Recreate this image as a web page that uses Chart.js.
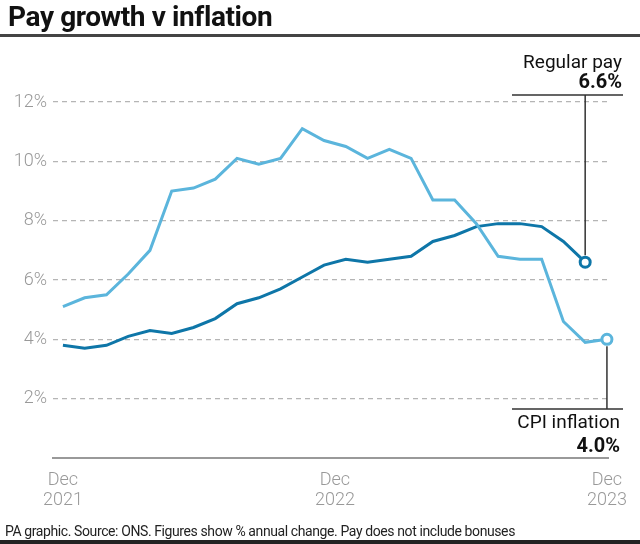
<!DOCTYPE html>
<html>
<head>
<meta charset="utf-8">
<script src="https://cdn.jsdelivr.net/npm/chart.js@4.4.1/dist/chart.umd.min.js"></script>
<style>
  body { margin: 0; background: #fff; }
  #wrap { position: relative; width: 640px; height: 544px; overflow: hidden; }
  #title { position: absolute; left: 8px; top: 0px; font: bold 28px Roboto, sans-serif; color: #111; letter-spacing: -0.4px; }
  #rule { position: absolute; left: 0; top: 34px; width: 640px; height: 3px; background: #444; }
  #foot { position: absolute; left: 5px; top: 523px; font: 14px Roboto, sans-serif; color: #222; letter-spacing: -0.4px; }
  #bar { position: absolute; left: 0; top: 540px; width: 640px; height: 4px; background: #222; }
  canvas { position: absolute; left: 0; top: 0; }
</style>
</head>
<body>
<div id="wrap">
  <canvas id="mainChart" width="640" height="544"></canvas>
  <div id="title">Pay growth v inflation</div>
  <div id="rule"></div>
  <div id="foot">PA graphic. Source: ONS. Figures show % annual change. Pay does not include bonuses</div>
  <div id="bar"></div>
</div>
<script>
// monthly, Nov 2021 .. Dec 2023
const cpiInflation = [5.1, 5.4, 5.5, 6.2, 7.0, 9.0, 9.1, 9.4, 10.1, 9.9, 10.1, 11.1, 10.7,
  10.5, 10.1, 10.4, 10.1, 8.7, 8.7, 7.9, 6.8, 6.7, 6.7, 4.6, 3.9, 4.0];
const regularPay = [3.8, 3.7, 3.8, 4.1, 4.3, 4.2, 4.4, 4.7, 5.2, 5.4, 5.7, 6.1, 6.5,
  6.7, 6.6, 6.7, 6.8, 7.3, 7.5, 7.8, 7.9, 7.9, 7.8, 7.3, 6.6];

const xTickPos = [0, 12.5, 25];
const xTickLabels = [['Dec', '2021'], ['Dec', '2022'], ['Dec', '2023']];
const yTicks = [0, 2, 4, 6, 8, 10, 12];

const payColor = '#0e76a8';
const cpiColor = '#5bb5dc';

const toPoints = arr => arr.map((v, i) => ({ x: i, y: v }));
const lastOnly = arr => ctx => ctx.dataIndex === arr.length - 1 ? 5 : 0;

const calloutPlugin = {
  id: 'callouts',
  afterDatasetsDraw(chart) {
    const c = chart.ctx;
    const xs = chart.scales.x, ys = chart.scales.y;
    const payX = xs.getPixelForValue(regularPay.length - 1);
    const payY = ys.getPixelForValue(regularPay[regularPay.length - 1]);
    const cpiX = xs.getPixelForValue(cpiInflation.length - 1);
    const cpiY = ys.getPixelForValue(cpiInflation[cpiInflation.length - 1]);
    c.save();
    c.strokeStyle = '#333';
    c.lineWidth = 1.5;
    c.beginPath();
    c.moveTo(payX, payY - 7); c.lineTo(payX, 95);
    c.moveTo(512, 95); c.lineTo(623, 95);
    c.moveTo(cpiX, cpiY + 7); c.lineTo(cpiX, 409);
    c.moveTo(512, 409); c.lineTo(623, 409);
    c.stroke();
    c.fillStyle = '#111';
    c.textAlign = 'right';
    c.textBaseline = 'alphabetic';
    c.font = '19px Roboto, sans-serif';
    c.fillText('Regular pay', 622, 68);
    c.fillText('CPI inflation', 620, 428);
    c.font = 'bold 20px Roboto, sans-serif';
    c.fillText(regularPay[regularPay.length - 1].toFixed(1) + '%', 622, 88);
    c.fillText(cpiInflation[cpiInflation.length - 1].toFixed(1) + '%', 620, 452);
    c.restore();
  }
};

const ctx = document.getElementById('mainChart').getContext('2d');
new Chart(ctx, {
  type: 'line',
  data: {
    datasets: [{
      label: 'CPI inflation',
      data: toPoints(cpiInflation),
      borderColor: cpiColor,
      borderWidth: 3,
      pointRadius: lastOnly(cpiInflation),
      pointBackgroundColor: '#fff',
      pointBorderColor: cpiColor,
      pointBorderWidth: 3,
      tension: 0,
      clip: false
    }, {
      label: 'Regular pay',
      data: toPoints(regularPay),
      borderColor: payColor,
      borderWidth: 3,
      pointRadius: lastOnly(regularPay),
      pointBackgroundColor: '#fff',
      pointBorderColor: payColor,
      pointBorderWidth: 3,
      tension: 0,
      clip: false
    }]
  },
  options: {
    responsive: false,
    animation: false,
    layout: { padding: { top: 102, right: 27, bottom: 26, left: 0 } },
    plugins: { legend: { display: false }, tooltip: { enabled: false } },
    scales: {
      x: {
        type: 'linear',
        min: -0.456,
        max: 25.09,
        afterBuildTicks: scale => { scale.ticks = xTickPos.map(v => ({ value: v })); },
        afterFit: scale => { scale.height = 60; },
        ticks: {
          callback: (v, i) => xTickLabels[i],
          color: '#999',
          font: { family: 'Roboto', size: 18, weight: '300', lineHeight: 1.1 },
          padding: 13,
          maxRotation: 0,
          autoSkip: false
        },
        grid: { display: false, drawTicks: false },
        border: { display: true, color: '#999', width: 2 }
      },
      y: {
        min: 0,
        max: 12,
        afterBuildTicks: scale => { scale.ticks = yTicks.map(v => ({ value: v })); },
        afterFit: scale => { scale.width = 53; },
        ticks: {
          callback: v => v === 0 ? '' : v + '%',
          color: '#999',
          font: { family: 'Roboto', size: 18, weight: '300' },
          padding: 6
        },
        grid: {
          color: c => c.tick && c.tick.value === 0 ? 'rgba(0,0,0,0)' : '#b5b5b5',
          lineWidth: 1.2,
          drawTicks: false
        },
        border: { display: false, dash: [5, 4] }
      }
    }
  },
  plugins: [calloutPlugin]
});
</script>
</body>
</html>
